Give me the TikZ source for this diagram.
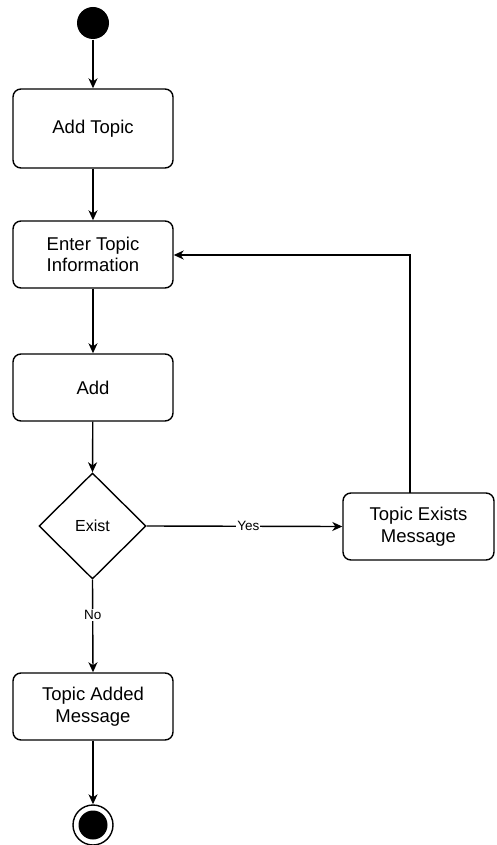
\documentclass[tikz,border=0pt]{standalone}
\usepackage{fontspec}
\setmainfont{Liberation Sans}
\usetikzlibrary{shapes.geometric,arrows.meta}
\begin{document}
\begin{tikzpicture}[x=1pt,y=-1pt,
  every path/.style={line width=1.4pt},
  act/.style={draw, rounded corners=8pt, minimum width=160pt, minimum height=67pt, align=center, font=\fontsize{18.5}{21.5}\selectfont, inner sep=2pt},
  dec/.style={draw, diamond, minimum width=107pt, minimum height=106pt, inner sep=0pt, font=\fontsize{16}{19}\selectfont},
  flow/.style={draw, -{Stealth[length=10pt,width=9pt,inset=3pt]}},
  lbl/.style={fill=white, inner sep=1pt, font=\fontsize{13.5}{16}\selectfont}]
\useasboundingbox (0,0) rectangle (496,845);
\node[circle, fill=black, minimum size=32pt, inner sep=0] (start) at (93,23) {};
\node[act, minimum height=79pt] (addtopic) at (93,128.5) {Add Topic};
\node[act] (enter) at (93,254.5) {Enter Topic\\Information};
\node[act] (add) at (93,387.5) {Add};
\node[dec] (exist) at (92.5,526) {Exist};
\node[act, minimum width=151pt] (exists) at (418.5,526.5) {Topic Exists\\Message};
\node[act] (added) at (93,706.5) {Topic Added\\Message};
\node[circle, draw, line width=1.4pt, minimum size=40pt, inner sep=0] (end) at (93,825) {};
\node[circle, fill=black, minimum size=29pt, inner sep=0] (endin) at (93,825) {};
\coordinate (up) at (410,493);
\coordinate (corner) at (410,255);
\draw[flow] (start) -- (addtopic);
\draw[flow] (addtopic) -- (enter);
\draw[flow] (enter) -- (add);
\draw[flow] (add) -- (exist.north);
\draw[flow] (exist.east) -- node[lbl, pos=0.52] {Yes} (exists.west);
\draw[flow] (exist.south) -- node[lbl, pos=0.38] {No} (added.north);
\draw[flow] (up) -- (corner) -- (enter.east |- corner);
\draw[flow] (added) -- (end);
\end{tikzpicture}
\end{document}
